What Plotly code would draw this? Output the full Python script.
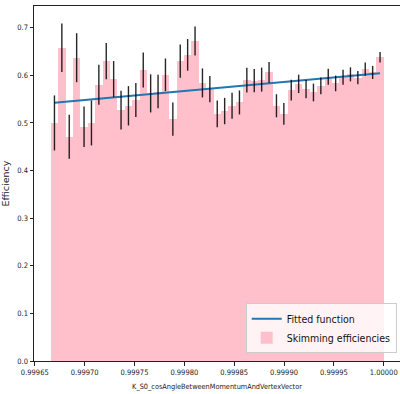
import numpy as np
import plotly.graph_objects as go

# ---- data ----
bin_low = 0.999666
bin_high = 1.0
efficiency = [0.500, 0.658, 0.471, 0.637, 0.492, 0.500, 0.580, 0.630, 0.592, 0.527,
              0.536, 0.548, 0.611, 0.562, 0.566, 0.601, 0.508, 0.630, 0.643, 0.672,
              0.584, 0.571, 0.519, 0.525, 0.536, 0.543, 0.590, 0.589, 0.591, 0.606,
              0.536, 0.519, 0.569, 0.582, 0.571, 0.564, 0.578, 0.597, 0.583, 0.596,
              0.602, 0.595, 0.613, 0.606, 0.638]
efficiency_err = [0.0578, 0.0508, 0.0462, 0.0515, 0.0427, 0.0473, 0.0420, 0.0380, 0.0380, 0.0406,
                  0.0413, 0.0357, 0.0368, 0.0400, 0.0350, 0.0343, 0.0350, 0.0350, 0.0333, 0.0305,
                  0.0305, 0.0277, 0.0280, 0.0277, 0.0273, 0.0252, 0.0259, 0.0245, 0.0252, 0.0221,
                  0.0242, 0.0228, 0.0217, 0.0193, 0.0193, 0.0186, 0.0175, 0.0168, 0.0165, 0.0158,
                  0.0147, 0.0140, 0.0140, 0.0137, 0.0112]
fit_values = [0.5426, 0.6044]  # fitted function at first and last bin centre
x_ticks = [0.99965, 0.99970, 0.99975, 0.99980, 0.99985, 0.99990, 0.99995, 1.00000]
y_ticks = [0.0, 0.1, 0.2, 0.3, 0.4, 0.5, 0.6, 0.7]

edges = np.linspace(bin_low, bin_high, len(efficiency) + 1)
centers = 0.5 * (edges[:-1] + edges[1:])
widths = np.diff(edges)

FONT = "DejaVu Sans Condensed, Liberation Sans Narrow, DejaVu Sans, sans-serif"

fig = go.Figure()
fig.add_trace(go.Bar(
    x=centers, y=efficiency, width=widths,
    marker=dict(color="#ffc0cb", line=dict(width=0)),
    name="Skimming efficiencies", legendrank=2,
))
fig.add_trace(go.Scatter(
    x=[centers[0], centers[-1]], y=fit_values, mode="lines",
    line=dict(color="#1f77b4", width=2),
    name="Fitted function", legendrank=1,
))
fig.add_trace(go.Scatter(
    x=centers, y=efficiency, mode="markers",
    marker=dict(size=0.1, color="rgba(0,0,0,0)"),
    error_y=dict(type="data", array=efficiency_err, color="rgba(0,0,0,0.85)",
                 thickness=1.4, width=0),
    showlegend=False, hoverinfo="skip",
))

fig.update_layout(
    width=400, height=394,
    margin=dict(l=34, r=0, t=6, b=33),
    paper_bgcolor="white", plot_bgcolor="white",
    bargap=0, showlegend=True,
    font=dict(family=FONT, size=8, color="#222222"),
    legend=dict(
        x=0.991, y=0.022, xanchor="right", yanchor="bottom",
        bgcolor="rgba(255,255,255,0.8)", bordercolor="#cccccc", borderwidth=1,
        font=dict(family=FONT, size=10.5, color="#111111"),
        traceorder="normal", itemwidth=30, tracegroupgap=4,
    ),
    xaxis=dict(
        range=[0.9996492, 1.0000163], tickvals=x_ticks, tickformat=".5f",
        showgrid=False, zeroline=False, showline=True, linecolor="#222222", linewidth=1,
        mirror=True, ticks="outside", ticklen=3.5, tickwidth=0.8, tickcolor="#222222",
        tickfont=dict(size=7.5),
        title=dict(text="K_S0_cosAngleBetweenMomentumAndVertexVector", font=dict(size=7.3), standoff=8),
    ),
    yaxis=dict(
        range=[0, 0.7456], tickvals=y_ticks, tickformat=".1f",
        showgrid=False, zeroline=False, showline=True, linecolor="#222222", linewidth=1,
        ticks="outside", ticklen=3.5, tickwidth=0.8, tickcolor="#222222",
        tickfont=dict(size=7.5),
        title=dict(text="Efficiency", font=dict(family="DejaVu Sans, sans-serif", size=9.5), standoff=5),
    ),
)

fig.write_html("out.html")
